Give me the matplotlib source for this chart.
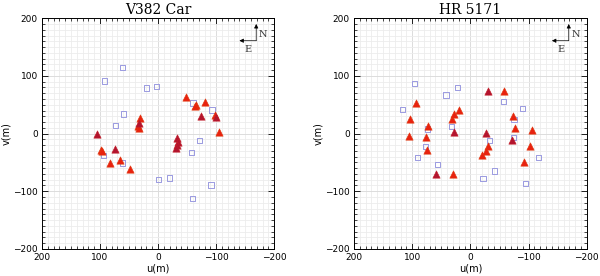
import numpy as np
import matplotlib.pyplot as plt
from matplotlib.ticker import MultipleLocator

# ---- data (u, v in metres) ----
titles = ['V382 Car', 'HR 5171']

# V382 Car
car_tri_u = [99, 97, 82, 66, 49, 32, 34, 33, -48, -65, -63, -81, -98, -105]
car_tri_v = [-28, -31, -51, -45, -61, 27, 14, 9, 64, 49, 47, 55, 32, 3]
car_dark_u = [106, 75, 33, -32, -34, -33, -31, -74, -99]
car_dark_v = [0, -26, 19, -8, -14, -19, -25, 31, 29]
car_sq_u = [61, 92, 20, 2.5, 59, 73, 94, 61, -1, -20, -58, -71, -60, -93, -91, -59]
car_sq_v = [115, 91, 79, 82, 34, 14, -38, -51, -80, -77, -33, -12, 53, 41, -89, -113]

# HR 5171
hr_tri_u = [93, 104, 73, 106, 77, 74, 30, 32, 28, 20, -58, -73, -76,
            -105, -103, -92, -31, -26, -20]
hr_tri_v = [53, 26, 14, -4, -6, -28, -70, 26, 34, 41, 73, 31, 10,
            7, -22, -49, -22, -30, -37]
hr_dark_u = [59, 29, -30, -71, -27]
hr_dark_v = [-70, 3, 74, -11, 1]
hr_sq_u = [95.5, 22.5, 42, 117, 33, 74, 76.5, 91, 57,
           -94, -21.5, -41, -117, -33, -74, -75, -89, -57]
hr_sq_v = [87, 80, 67, 42, 12, 8, -22, -42, -54,
           -86, -78, -65, -41, -12, -7, 24, 44, 56]

panels = [
    (car_tri_u, car_tri_v, car_dark_u, car_dark_v, car_sq_u, car_sq_v),
    (hr_tri_u, hr_tri_v, hr_dark_u, hr_dark_v, hr_sq_u, hr_sq_v),
]

fig = plt.figure(figsize=(6.0, 2.76), dpi=100)
boxes = [[0.070, 0.098, 0.387, 0.836], [0.590, 0.098, 0.388, 0.836]]

for box, title, (tu, tv, du, dv, su, sv) in zip(boxes, titles, panels):
    ax = fig.add_axes(box)
    ax.set_xlim(200, -200)
    ax.set_ylim(-200, 200)

    # fine grid
    ax.xaxis.set_major_locator(MultipleLocator(100))
    ax.yaxis.set_major_locator(MultipleLocator(100))
    ax.xaxis.set_minor_locator(MultipleLocator(10))
    ax.yaxis.set_minor_locator(MultipleLocator(10))
    ax.grid(which='minor', color='#ececec', linewidth=0.6)
    ax.grid(which='major', color='#dcdcdc', linewidth=0.7)
    ax.set_axisbelow(True)

    ax.tick_params(which='both', direction='in', top=True, right=True,
                   labelsize=6.5, pad=3)
    ax.tick_params(which='major', length=4, width=0.6)
    ax.tick_params(which='minor', length=2, width=0.5)
    for sp in ax.spines.values():
        sp.set_linewidth(0.7)

    ax.scatter(su, sv, marker='s', s=14, facecolors='none',
               edgecolors='#9a9ae0', linewidths=0.7, zorder=3)
    ax.scatter(tu, tv, marker='^', s=28, color='#e8220f',
               edgecolors='#e03a10', linewidths=0.4, zorder=4)
    ax.scatter(du, dv, marker='^', s=28, color='#b3142e',
               edgecolors='#c41e28', linewidths=0.4, zorder=4)

    # N / E compass
    ax.annotate('', xy=(-169, 190), xytext=(-169, 161),
                arrowprops=dict(arrowstyle='-|>', color='k', lw=0.5,
                                mutation_scale=6, shrinkA=0, shrinkB=0))
    ax.annotate('', xy=(-140, 161), xytext=(-169, 161),
                arrowprops=dict(arrowstyle='-|>', color='k', lw=0.5,
                                mutation_scale=6, shrinkA=0, shrinkB=0))
    ax.text(-173, 172, 'N', fontsize=7, family='DejaVu Serif',
            ha='left', va='center', color='#333333')
    ax.text(-155, 146, 'E', fontsize=7, family='DejaVu Serif',
            ha='center', va='center', color='#333333')

    ax.set_title(title, fontsize=10, family='DejaVu Serif', pad=3)
    ax.set_xlabel('u(m)', fontsize=7, labelpad=1)
    ax.set_ylabel('v(m)', fontsize=7, labelpad=1)

plt.savefig('out.png', dpi=100)
